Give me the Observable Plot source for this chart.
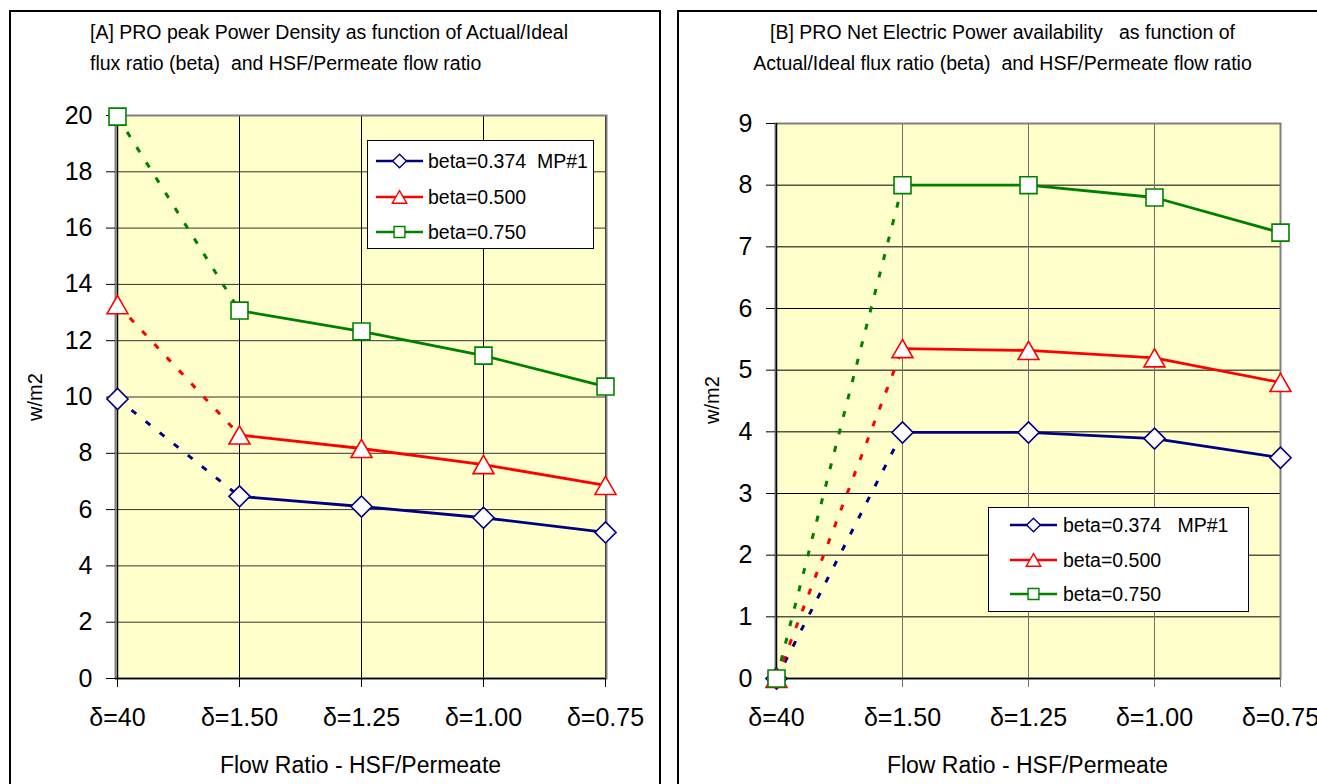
<!DOCTYPE html>
<html>
<head>
<meta charset="utf-8">
<script src="https://cdn.jsdelivr.net/npm/d3@7"></script>
<script src="https://cdn.jsdelivr.net/npm/@observablehq/plot@0.6"></script>
<style>
  html, body { margin: 0; padding: 0; background: #fff; }
  #page { position: relative; width: 1317px; height: 784px; overflow: hidden; font-family: "Liberation Sans", Arial, Helvetica, sans-serif; color: #000; }
  .panel { position: absolute; border: 2px solid #000; box-sizing: border-box; }
  .abs { position: absolute; white-space: pre; }
  .title { font-size: 19.5px; line-height: 31px; }
  .xlabel { font-size: 23px; text-align: center; }
  .ylabel { font-size: 20px; transform: translate(-50%, -50%) rotate(-90deg); }
  .legend { position: absolute; background: #fff; border: 1.5px solid #000; box-sizing: border-box; }
  .chart { position: absolute; top: 0; }
</style>
</head>
<body>
<div id="page"></div>
<script>
// ---------- data ----------
const categories = ["δ=40", "δ=1.50", "δ=1.25", "δ=1.00", "δ=0.75"];
const seriesNames = ["beta=0.374  MP#1", "beta=0.500", "beta=0.750"];
const seriesColors = ["#000080", "#FF0000", "#008000"];
const seriesSymbols = ["diamond2", "triangle2", "square2"];

// [A] peak power density (w/m2)
const densityBeta0374 = [9.93, 6.47, 6.11, 5.71, 5.19];
const densityBeta0500 = [13.28, 8.65, 8.17, 7.6, 6.86];
const densityBeta0750 = [19.96, 13.07, 12.33, 11.47, 10.37];
const densityTicks = [0, 2, 4, 6, 8, 10, 12, 14, 16, 18, 20];

// [B] net electric power (w/m2)
const powerBeta0374 = [0, 3.99, 3.99, 3.89, 3.58];
const powerBeta0500 = [0, 5.35, 5.32, 5.2, 4.8];
const powerBeta0750 = [0, 8.0, 8.0, 7.8, 7.23];
const powerTicks = [0, 1, 2, 3, 4, 5, 6, 7, 8, 9];

const FONT = '"Liberation Sans", Arial, Helvetica, sans-serif';
const page = document.getElementById("page");

function rowsOf(seriesValues) {
  const rows = [];
  seriesNames.forEach((s, si) => seriesValues[si].forEach((v, i) => rows.push({series: s, cat: categories[i], value: v, idx: i})));
  return rows;
}

function makeChart(seriesValues, ticks, cfg) {
  const rows = rowsOf(seriesValues);
  const symR = [9.5, 10, 10.8];
  const symDy = [0, 3, 0];
  const dots = seriesNames.map((s, si) =>
    Plot.dot(rows.filter(d => d.series === s), {
      x: "cat", y: "value", symbol: "series", stroke: "series",
      fill: "white", r: symR[si], dy: symDy[si], strokeWidth: 1.6
    })
  );
  return Plot.plot({
    width: cfg.width, height: 784,
    marginLeft: cfg.ml, marginRight: cfg.mr, marginTop: cfg.mt, marginBottom: cfg.mb,
    style: {fontFamily: FONT, fontSize: "25px", background: "transparent", color: "#000", overflow: "visible"},
    x: {type: "point", domain: categories, padding: 0, axis: null},
    y: {domain: [0, ticks[ticks.length - 1]], axis: null},
    color: {domain: seriesNames, range: seriesColors},
    symbol: {domain: seriesNames, range: seriesSymbols},
    marks: [
      Plot.frame({fill: "#FFFFCC", stroke: "none"}),
      Plot.gridY(ticks, {stroke: cfg.hGrid, strokeOpacity: 1, strokeWidth: 1}),
      Plot.gridX(categories, {stroke: cfg.vGrid, strokeOpacity: 1, strokeWidth: 1}),
      Plot.frame({stroke: "#808080", strokeWidth: 2, fill: "none"}),
      Plot.axisY({ticks, tickSize: 9, tickPadding: 14, label: null, fontSize: 25, stroke: "#000"}),
      Plot.axisX({tickSize: 9, tickPadding: 21, label: null, fontSize: 25, stroke: cfg.vGrid}),
      Plot.ruleX([categories[0]], {stroke: "#000", strokeWidth: 1.5}),
      Plot.ruleY([0], {stroke: "#000", strokeWidth: 1.5}),
      Plot.line(rows.filter(d => d.idx <= 1), {x: "cat", y: "value", z: "series", stroke: "series", strokeWidth: 3, strokeDasharray: "6,12", strokeLinecap: "butt"}),
      Plot.line(rows.filter(d => d.idx >= 1), {x: "cat", y: "value", z: "series", stroke: "series", strokeWidth: 2.8}),
      ...dots
    ]
  });
}

function addDiv(cls, css, text) {
  const el = document.createElement("div");
  el.className = cls;
  Object.assign(el.style, css);
  if (text != null) el.textContent = text;
  page.appendChild(el);
  return el;
}

function addLegend(box) {
  const el = addDiv("legend", {left: box.x + "px", top: box.y + "px", width: box.w + "px", height: box.h + "px"});
  const svg = d3.create("svg").attr("width", box.w).attr("height", box.h)
    .style("position", "absolute").style("left", "-1.5px").style("top", "-1.5px").style("overflow", "visible");
  const sym = {diamond2: d3.symbolDiamond2, triangle2: d3.symbolTriangle2, square2: d3.symbolSquare2};
  const sizes = [120, 150, 150];
  seriesNames.forEach((name, i) => {
    const y = box.rows[i];
    svg.append("line").attr("x1", box.lx0).attr("x2", box.lx1).attr("y1", y).attr("y2", y)
      .attr("stroke", seriesColors[i]).attr("stroke-width", 2.6);
    svg.append("path").attr("d", d3.symbol(sym[seriesSymbols[i]], sizes[i])())
      .attr("transform", `translate(${(box.lx0 + box.lx1) / 2},${y + (i === 1 ? 2 : 0)})`)
      .attr("fill", "#fff").attr("stroke", seriesColors[i]).attr("stroke-width", 1.4);
    svg.append("text").attr("x", box.tx).attr("y", y).attr("dy", "0.35em")
      .attr("font-family", FONT).attr("font-size", 19.5).attr("xml:space", "preserve")
      .style("white-space", "pre")
      .text(box.labels[i]);
  });
  el.appendChild(svg.node());
}

// panels
addDiv("panel", {left: "9px", top: "10px", width: "652px", height: "800px"});
addDiv("panel", {left: "677px", top: "10px", width: "700px", height: "800px"});

// chart A
const chartA = makeChart([densityBeta0374, densityBeta0500, densityBeta0750], densityTicks,
  {width: 660, ml: 115, mr: 54, mt: 115, mb: 106, hGrid: "#333", vGrid: "#000"});
chartA.classList.add("chart");
chartA.style.left = "0px";
page.appendChild(chartA);

// chart B
const chartB = makeChart([powerBeta0374, powerBeta0500, powerBeta0750], powerTicks,
  {width: 639, ml: 97, mr: 37, mt: 123, mb: 106, hGrid: "#000", vGrid: "#707070"});
chartB.classList.add("chart");
chartB.style.left = "678px";
page.appendChild(chartB);

// titles
addDiv("abs title", {left: "90px", top: "17px"}, "[A] PRO peak Power Density as function of Actual/Ideal\nflux ratio (beta)  and HSF/Permeate flow ratio");
addDiv("abs title", {left: "683px", top: "17px", width: "639px", textAlign: "center"}, "[B] PRO Net Electric Power availability   as function of\nActual/Ideal flux ratio (beta)  and HSF/Permeate flow ratio");

// axis labels
addDiv("abs xlabel", {left: "115px", width: "491px", top: "752px"}, "Flow Ratio - HSF/Permeate");
addDiv("abs xlabel", {left: "775px", width: "505px", top: "752px"}, "Flow Ratio - HSF/Permeate");
addDiv("abs ylabel", {left: "35px", top: "397px"}, "w/m2");
addDiv("abs ylabel", {left: "712px", top: "400px"}, "w/m2");

// legends
addLegend({x: 367, y: 140, w: 227, h: 109, rows: [21, 57, 92], lx0: 9, lx1: 56, tx: 61,
  labels: ["beta=0.374  MP#1", "beta=0.500", "beta=0.750"]});
addLegend({x: 988, y: 507, w: 261, h: 105, rows: [18, 53, 87], lx0: 22, lx1: 69, tx: 75,
  labels: ["beta=0.374   MP#1", "beta=0.500", "beta=0.750"]});
</script>
</body>
</html>
